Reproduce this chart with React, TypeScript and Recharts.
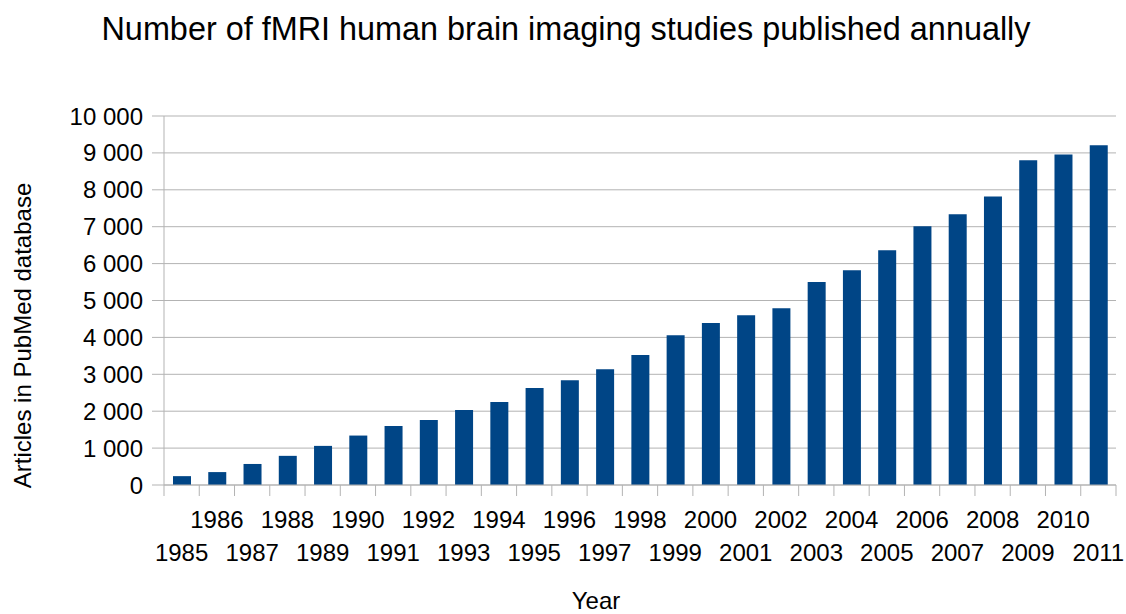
import { BarChart, Bar, XAxis, YAxis, CartesianGrid, Label } from 'recharts';

// Year categories and annual article counts
const years = [
  '1985', '1986', '1987', '1988', '1989', '1990', '1991', '1992', '1993',
  '1994', '1995', '1996', '1997', '1998', '1999', '2000', '2001', '2002',
  '2003', '2004', '2005', '2006', '2007', '2008', '2009', '2010', '2011',
];
const articles = [
  240, 350, 570, 790, 1060, 1340, 1600, 1760, 2030,
  2250, 2630, 2840, 3140, 3520, 4060, 4390, 4600, 4790,
  5500, 5820, 6360, 7010, 7340, 7820, 8800, 8960, 9210,
];
const yTicks = [0, 1000, 2000, 3000, 4000, 5000, 6000, 7000, 8000, 9000, 10000];

const data = years.map((year, i) => ({ year, articles: articles[i] }));

const WIDTH = 1126;
const HEIGHT = 614;
const MARGIN = { top: 116, right: 10, bottom: 0, left: 0 };
const Y_AXIS_WIDTH = 164;
const X_AXIS_HEIGHT = 129;
const GRID = '#b3b3b3';
const BAR = '#004586';
const FONT = '"Liberation Sans", Arial, sans-serif';

const bandWidth = (WIDTH - Y_AXIS_WIDTH - MARGIN.left - MARGIN.right) / years.length;

const formatThousands = (v: number) =>
  String(v).replace(/\B(?=(\d{3})+(?!\d))/g, ' ');

// Tick lines sit on category boundaries, labels alternate between two rows
// eslint-disable-next-line @typescript-eslint/no-explicit-any
const YearTick = (props: any) => {
  const { x, y, payload, index } = props;
  const lowerRow = index % 2 === 0;
  const left = x - bandWidth / 2;
  const right = x + bandWidth / 2;
  return (
    <g>
      <line x1={left} x2={left} y1={y} y2={y + 11} stroke={GRID} />
      {index === years.length - 1 && (
        <line x1={right} x2={right} y1={y} y2={y + 11} stroke={GRID} />
      )}
      <text
        x={x}
        y={y + (lowerRow ? 76 : 43)}
        textAnchor="middle"
        fontSize={24}
        fill="#000"
      >
        {payload.value}
      </text>
    </g>
  );
};

// eslint-disable-next-line @typescript-eslint/no-explicit-any
const YTitle = (props: any) => {
  const { viewBox } = props;
  const cx = viewBox.x + 23;
  const cy = viewBox.y + viewBox.height / 2 + 35;
  return (
    <text
      x={cx}
      y={cy}
      dy="0.35em"
      textAnchor="middle"
      fontSize={24}
      fill="#000"
      transform={`rotate(-90, ${cx}, ${cy})`}
    >
      Articles in PubMed database
    </text>
  );
};

// eslint-disable-next-line @typescript-eslint/no-explicit-any
const XTitle = (props: any) => {
  const { viewBox } = props;
  return (
    <text
      x={viewBox.x + viewBox.width / 2 - 44}
      y={viewBox.y + viewBox.height - 5}
      textAnchor="middle"
      fontSize={24}
      fill="#000"
    >
      Year
    </text>
  );
};

export default function App() {
  return (
    <div
      style={{
        position: 'absolute',
        left: 0,
        top: 0,
        width: WIDTH,
        height: HEIGHT,
        background: '#fff',
        fontFamily: FONT,
      }}
    >
      <div
        style={{
          position: 'absolute',
          left: 566,
          top: 13,
          transform: 'translateX(-50%)',
          whiteSpace: 'nowrap',
          fontSize: 32.4,
          lineHeight: '32px',
          color: '#000',
        }}
      >
        Number of fMRI human brain imaging studies published annually
      </div>
      <BarChart width={WIDTH} height={HEIGHT} data={data} margin={MARGIN} barSize={18}>
        <CartesianGrid vertical={false} stroke={GRID} />
        <XAxis
          dataKey="year"
          height={X_AXIS_HEIGHT}
          interval={0}
          tickLine={false}
          tickSize={0}
          tickMargin={0}
          axisLine={{ stroke: GRID }}
          tick={<YearTick />}
        >
          <Label content={<XTitle />} />
        </XAxis>
        <YAxis
          width={Y_AXIS_WIDTH}
          domain={[0, 10000]}
          ticks={yTicks}
          interval={0}
          tickFormatter={formatThousands}
          tick={{ fontSize: 24, fill: '#000' }}
          tickLine={{ stroke: GRID }}
          tickSize={12}
          tickMargin={9}
          axisLine={{ stroke: GRID }}
        >
          <Label content={<YTitle />} />
        </YAxis>
        <YAxis
          yAxisId="right"
          orientation="right"
          width={0}
          domain={[0, 10000]}
          tick={false}
          tickLine={false}
          axisLine={{ stroke: GRID }}
        />
        <Bar dataKey="articles" fill={BAR} isAnimationActive={false} />
      </BarChart>
    </div>
  );
}
